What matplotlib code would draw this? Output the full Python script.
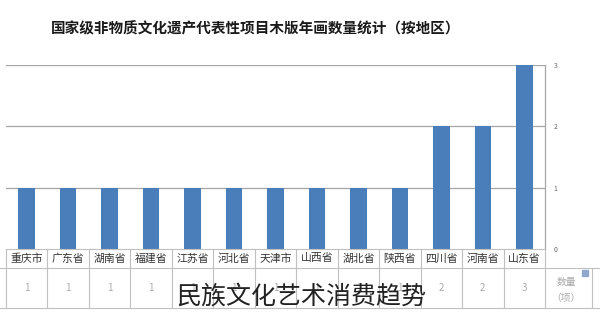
import matplotlib
matplotlib.use('Agg')
import matplotlib.pyplot as plt
from matplotlib.patches import Rectangle

plt.rcParams['font.family'] = ['Noto Sans CJK SC', 'DejaVu Sans']

# data (left to right)
provinces = ['重庆市', '广东省', '湖南省', '福建省', '江苏省', '河北省', '天津市',
             '山西省', '湖北省', '陕西省', '四川省', '河南省', '山东省']
counts = [1, 1, 1, 1, 1, 1, 1, 1, 1, 1, 2, 2, 3]
yticks = [0, 1, 2, 3]
title = '国家级非物质文化遗产代表性项目木版年画数量统计（按地区）'
series_name = ['数量', '（项）']
watermark = '民族文化艺术消费趋势'

W, H = 600, 313
fig = plt.figure(figsize=(W / 100, H / 100), dpi=100)
fig.patch.set_facecolor('white')

def fx(px):
    return px / W

def fy(py):
    return 1 - py / H

bar_col = '#4a7ebb'
grid_col = '#a6a6a6'
tab_col = '#c0c0c0'

# main plot area
left, right, top, bottom = 6, 545, 65, 249
ax = fig.add_axes([fx(left), fy(bottom), fx(right - left), (bottom - top) / H])
n = len(provinces)
x = list(range(n))
ax.bar(x, counts, width=0.4, color=bar_col, zorder=3)
ax.set_xlim(-0.5, n - 0.5)
ax.set_ylim(0, 3)
ax.set_yticks(yticks)
ax.yaxis.tick_right()
ax.tick_params(axis='y', length=0, labelsize=5, labelcolor='#666666', pad=6)
ax.set_xticks([])
for v in yticks[1:]:
    ax.axhline(v, color=grid_col, lw=0.9, zorder=1)
for s in ['top', 'left', 'bottom']:
    ax.spines[s].set_visible(False)
ax.spines['right'].set_color(grid_col)
ax.spines['right'].set_linewidth(0.9)

# title
fig.text(fx(256), fy(28), title, ha='center', va='center', fontsize=10.5,
         fontweight='bold', color='#1a1a1a')

# table below the plot
step = (right - left) / n
row1_top, row1_bot, row2_bot = 249, 268, 308
for i, name in enumerate(provinces):
    cx = left + step * (i + 0.5)
    fig.text(fx(cx), fy((row1_top + row1_bot) / 2), name, ha='center', va='center',
             fontsize=7.8, color='#333333')
    fig.text(fx(cx), fy(288), str(counts[i]), ha='center',
             va='center', fontsize=7, color='#aaaaaa')

lines = []
lines.append(([left, right], [row1_top, row1_top]))
lines.append(([0, 600], [row1_bot, row1_bot]))
lines.append(([0, 600], [row2_bot, row2_bot]))
for i in range(n + 1):
    xx = left + step * i
    lines.append(([xx, xx], [row1_top, row2_bot]))
lines.append(([592, 592], [row1_bot, row2_bot]))
for xs, ys in lines:
    fig.add_artist(plt.Line2D([fx(v) for v in xs], [fy(v) for v in ys],
                              color=tab_col, lw=0.8))

# series header cell
fig.add_artist(Rectangle((fx(582), fy(276)), 6 / W, 6 / H, color='#8fa8cc',
                         transform=fig.transFigure))
fig.text(fx(566), fy(282), series_name[0], ha='center', va='center', fontsize=7,
         color='#aaaaaa')
fig.text(fx(566), fy(298), series_name[1], ha='center', va='center', fontsize=7,
         color='#aaaaaa')

# watermark overlay
fig.text(fx(301), fy(297), watermark, ha='center', va='center', fontsize=18,
         color='#222222', fontweight='light')

fig.savefig('out.png', dpi=100)
